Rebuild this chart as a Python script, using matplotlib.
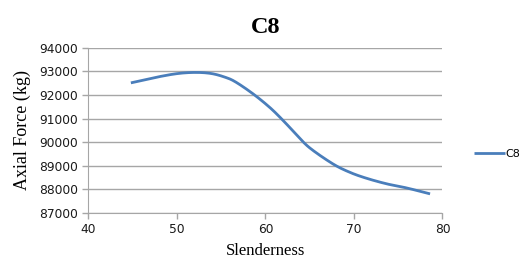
import numpy as np
import matplotlib
matplotlib.use("Agg")
import matplotlib.pyplot as plt

# values
slenderness = [44.8, 47.9, 50.2, 52.2, 53.9, 55.4, 56.6, 58.6, 60.5, 62.0,
               63.5, 65.0, 67.6, 69.5, 71.4, 73.7, 75.9, 78.6]
axial_force = [92515, 92770, 92915, 92957, 92910, 92760, 92560, 92050, 91470, 90920,
               90320, 89760, 89085, 88728, 88472, 88234, 88064, 87809]
series_name = "C8"
x_ticks = [40, 50, 60, 70, 80]
y_ticks = [87000, 88000, 89000, 90000, 91000, 92000, 93000, 94000]


# smooth line through the points, like Excel's "smoothed line"
def catmull_rom(x, y, n=20):
    px = np.r_[x[0], x, x[-1]]
    py = np.r_[y[0], y, y[-1]]
    xs, ys = [], []
    t = np.linspace(0, 1, n)
    for i in range(1, len(px) - 2):
        for p, out in ((px, xs), (py, ys)):
            p0, p1, p2, p3 = p[i - 1], p[i], p[i + 1], p[i + 2]
            out.extend(0.5 * ((2 * p1) + (-p0 + p2) * t
                              + (2 * p0 - 5 * p1 + 4 * p2 - p3) * t ** 2
                              + (-p0 + 3 * p1 - 3 * p2 + p3) * t ** 3))
    return np.array(xs), np.array(ys)


sx, sy = catmull_rom(np.array(slenderness, float), np.array(axial_force, float))

fig = plt.figure(figsize=(5.23, 2.6), dpi=100)
ax = fig.add_axes([0.169, 0.181, 0.677, 0.635])

ax.plot(sx, sy, color="#4a7ebb", lw=2.0, label=series_name, solid_capstyle="butt")

ax.set_xlim(40, 80)
ax.set_ylim(87000, 94000)
ax.set_xticks(x_ticks)
ax.set_yticks(y_ticks)
ax.grid(axis="y", color="#a6a6a6", lw=1.0)
ax.set_axisbelow(True)
for s in ("top", "right"):
    ax.spines[s].set_visible(False)
for s in ("left", "bottom"):
    ax.spines[s].set_color("#a6a6a6")
ax.tick_params(colors="#a6a6a6", labelcolor="#1a1a1a", labelsize=8.8, length=4, width=1)

ax.set_title("C8", fontsize=17.5, fontweight="bold", family="Liberation Serif", pad=11)
ax.set_xlabel("Slenderness", fontsize=12, family="Liberation Serif", labelpad=5)
ax.set_ylabel("Axial Force (kg)", fontsize=13, family="Liberation Serif", labelpad=6)

ax.legend(loc="center left", bbox_to_anchor=(1.088, 0.357), frameon=False,
          borderaxespad=0, borderpad=0,
          fontsize=8, handlelength=2.8, handletextpad=0.1)

fig.savefig("out.png", dpi=100)
